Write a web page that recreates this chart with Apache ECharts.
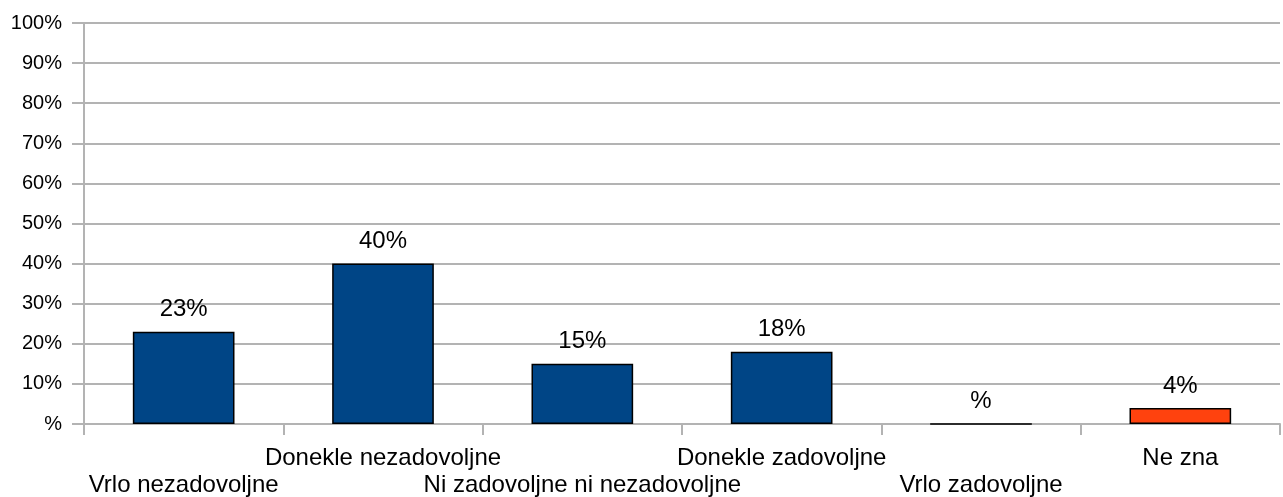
<!DOCTYPE html>
<html>
<head>
<meta charset="utf-8">
<script src="https://cdn.jsdelivr.net/npm/echarts@6/dist/echarts.min.js"></script>
<style>
  html, body { margin: 0; padding: 0; background: #fff; }
  #chart { width: 1283px; height: 497px; }
</style>
</head>
<body>
<div id="chart"></div>
<script>
// Data
const categories = ['Vrlo nezadovoljne', 'Donekle nezadovoljne', 'Ni zadovoljne ni nezadovoljne', 'Donekle zadovoljne', 'Vrlo zadovoljne', 'Ne zna'];
const values = [23, 40, 15, 18, 0, 4];
const barColors = ['#004586', '#004586', '#004586', '#004586', '#004586', '#ff420e'];

const pct = v => (v === 0 ? '%' : v + '%');

const chart = echarts.init(document.getElementById('chart'));

chart.setOption({
  animation: false,
  textStyle: { fontFamily: 'Liberation Sans, Arial, sans-serif' },
  grid: { left: 84, right: 3, top: 23, bottom: 73, outerBoundsMode: 'none', containLabel: false },
  xAxis: {
    type: 'category',
    data: categories,
    axisLine: { lineStyle: { color: '#b3b3b3', width: 2 } },
    axisTick: { show: true, length: 11, lineStyle: { color: '#b3b3b3', width: 2 } },
    axisLabel: {
      color: '#000',
      fontSize: 24,
      lineHeight: 27,
      margin: 21,
      interval: 0,
      hideOverlap: false,
      formatter: (v, i) => (i % 2 === 0 ? '\n' + v : v),
    },
  },
  yAxis: {
    type: 'value',
    min: 0,
    max: 100,
    interval: 10,
    axisLine: { show: true, lineStyle: { color: '#b3b3b3', width: 2 } },
    axisTick: { show: true, length: 12, lineStyle: { color: '#b3b3b3', width: 2 } },
    splitLine: { lineStyle: { color: '#b3b3b3', width: 2 } },
    axisLabel: { color: '#000', fontSize: 20, margin: 22, formatter: pct },
  },
  series: [{
    type: 'bar',
    barWidth: '51%',
    data: values.map((v, i) => ({ value: v, itemStyle: { color: barColors[i] } })),
    itemStyle: { borderColor: '#000', borderWidth: 1.5 },
    label: {
      show: true,
      position: 'top',
      distance: 10,
      color: '#000',
      fontSize: 24,
      formatter: p => pct(p.value),
    },
  }],
});
</script>
</body>
</html>
